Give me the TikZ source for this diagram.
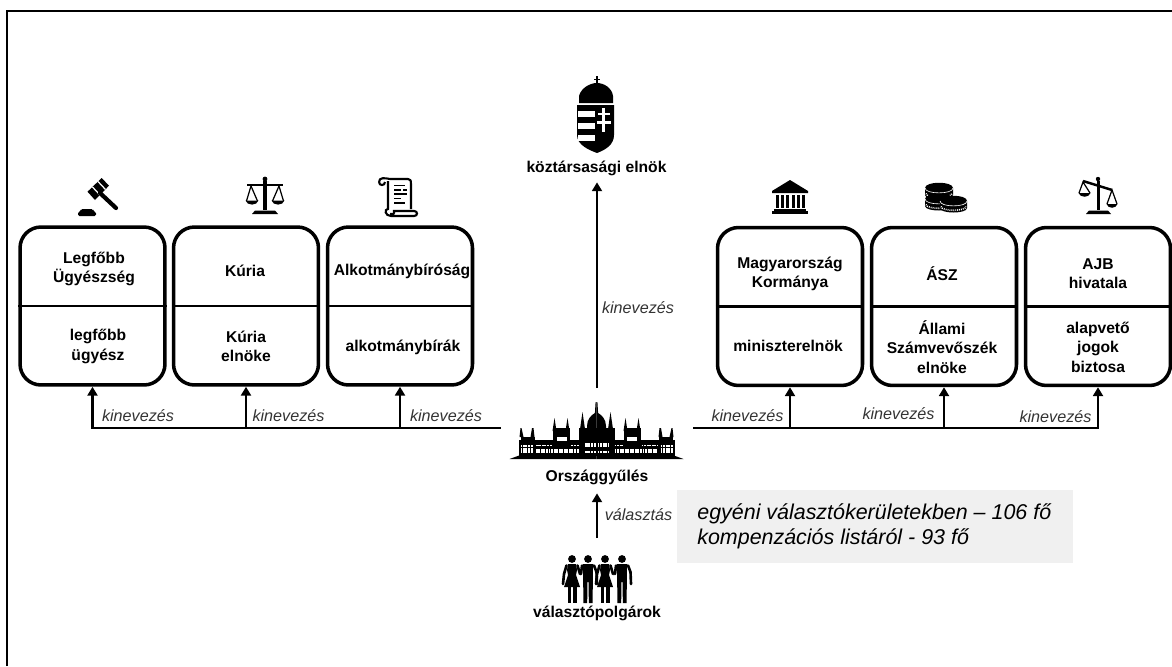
\documentclass[tikz,border=0pt]{standalone}
\usepackage{fontspec}
\setmainfont{Liberation Sans}
\usetikzlibrary{arrows.meta}
\definecolor{grayfill}{HTML}{F0F0F0}
\definecolor{italgray}{HTML}{333333}
\tikzset{
  orgbox/.style={draw=black,line width=2pt,rounded corners=0.42cm,minimum width=2.9cm,minimum height=3.16cm,inner sep=0pt},
  orgtext/.style={font=\fontsize{8.9}{11.1}\selectfont\bfseries,align=center,inner sep=0pt,text=black,yshift=-0.02cm},
  rel/.style={font=\fontsize{9.2}{11}\selectfont\itshape,inner sep=0pt,text=italgray},
  conn/.style={line width=1.6pt,draw=black},
  arr/.style={conn,-{Triangle[length=5pt,width=5.6pt]}},
  divider/.style={line width=1.7pt,draw=black},
  spot/.style={inner sep=0pt,outer sep=0pt},
  win/.style={draw=white,dash pattern=on 1.1pt off .35pt},
}
\newcommand\coinico[3]{%
  \fill[black] (#1-#3,#2) -- (#1-#3,#2+7) .. controls (#1-#3,#2+13) and (#1+#3,#2+13) .. (#1+#3,#2+7) -- (#1+#3,#2) .. controls (#1+#3,#2-7) and (#1-#3,#2-7) .. cycle;
  \draw[white,line width=.35pt] (#1-#3,#2) .. controls (#1-#3,#2+6.5) and (#1+#3,#2+6.5) .. (#1+#3,#2);
  \draw[white,line width=.9pt,dash pattern=on .5pt off .6pt] (#1-#3+1,#2+5.5) .. controls (#1-#3+1,#2+10.5) and (#1+#3-1,#2+10.5) .. (#1+#3-1,#2+5.5);
}
\newcommand\womanico[1]{\begin{scope}[shift={(#1,0)}]
  \fill (0,559) circle (3.9);
  \fill (-4,564) -- (4,564) -- (5,570) -- (4,575) -- (8,587) -- (-8,587) -- (-4,575) -- (-5,570) -- cycle;
  \draw[line width=1.5pt,line cap=round] (-5.5,565.5) -- (-8,574) -- (-9,584);
  \draw[line width=1.5pt,line cap=round] (5.5,565.5) -- (8,574);
  \fill (-4.5,587) rectangle (-1,603);
  \fill (1,587) rectangle (4.5,603);
\end{scope}}
\newcommand\manico[1]{\begin{scope}[shift={(#1,0)}]
  \fill (0,559) circle (3.9);
  \fill (-5,564) -- (5,564) -- (4.6,603) -- (.8,603) -- (.6,582) -- (-.6,582) -- (-.8,603) -- (-4.6,603) -- cycle;
  \draw[line width=1.5pt,line cap=round] (-6,565.5) -- (-7,574);
  \draw[line width=1.5pt,line cap=round] (6,565.5) -- (8.5,572) -- (9,584);
\end{scope}}
\newcommand\parlhalf{%
  \fill (0,459) -- (87,459) -- (76,455) -- (0,455) -- cycle;
  \fill (0,440) rectangle (78,456);
  \fill (62,437) rectangle (76,456);
  \fill (62,437) -- (63,428) -- (64.5,428) -- (66,437) -- cycle;
  \fill (73,437) -- (75,428) -- (76,428) -- (77,437) -- cycle;
  \fill (27,428) rectangle (44,456);
  \fill (27,431) -- (29,418) -- (31,431) -- cycle;
  \fill (40,431) -- (42,418) -- (44,431) -- cycle;
  \fill (0,428) rectangle (18,456);
  \fill (0,440) -- (9.5,440) -- (9.5,426) .. controls (9.5,419) and (5,415) .. (1.6,413) -- (0.9,402) -- (0,402) -- cycle;
  \fill (10.5,436) -- (14,412) -- (17.5,436) -- cycle;
  \fill[white] (35,420.5) circle (.9);
  \fill[white] (30,437) rectangle (40,441);
  \draw[win,line width=2.4pt] (1,445) -- (12,445);
  \draw[win,line width=1pt] (1,452) -- (12,452);
  \draw[win,line width=2.8pt] (18,451) -- (61,451);
  \draw[win,line width=.9pt] (18,445.5) -- (26,445.5);
  \draw[win,line width=.9pt] (45,445.5) -- (61,445.5);
  \draw[win,line width=2.4pt] (64,450.5) -- (76,450.5);
  \draw[win,line width=1.2pt] (64,446) -- (76,446);
}
\begin{document}
\begin{tikzpicture}[x=0.02cm,y=-0.02cm]
\useasboundingbox (0,0) rectangle (1172,666);
% frame
\draw[line width=1.2pt,black] (7,666) -- (7,11) -- (1172,11);
% grey note
\fill[grayfill] (677,490) rectangle (1073,563);
\node[anchor=west,align=left,inner sep=0pt,font=\fontsize{12.2}{14.2}\selectfont\itshape,text=black] (note) at (697,526.5) {egyéni választókerületekben – 106 fő\\kompenzációs listáról - 93 fő};
% boxes
\node[orgbox] (a) at (92.5,306) {};
\node[orgbox] (b) at (246,306) {};
\node[orgbox] (c) at (400,306) {};
\node[orgbox] (d) at (790,306.5) {};
\node[orgbox] (e) at (944,306.5) {};
\node[orgbox] (f) at (1098,306.5) {};
\foreach \n in {a,b,c,d,e,f}{\draw[divider] (\n.west) -- (\n.east);}
% box texts
\node[orgtext] (a1) at (94,268) {Legfőbb\\Ügyészség};
\node[orgtext] (a2) at (98,345.5) {legfőbb\\ügyész};
\node[orgtext] (b1) at (245,270) {Kúria};
\node[orgtext] (b2) at (246,345.5) {Kúria\\elnöke};
\node[orgtext] (c1) at (402,270) {Alkotmánybíróság};
\node[orgtext] (c2) at (403,346) {alkotmánybírák};
\node[orgtext] (d1) at (790,273) {Magyarország\\Kormánya};
\node[orgtext] (d2) at (788,345) {miniszterelnök};
\node[orgtext] (e1) at (942,273) {ÁSZ};
\node[orgtext] (e2) at (942,346) {Állami\\Számvevőszék\\elnöke};
\node[orgtext] (f1) at (1098,272.5) {AJB\\hivatala};
\node[orgtext] (f2) at (1098,346) {alapvető\\jogok\\biztosa};
% centre anchors
\node[spot,minimum width=3.86cm,minimum height=1.6cm] (parl) at (597,428) {};
\node[orgtext,minimum height=0.64cm] (orsz) at (597,476) {Országgyűlés};
\node[orgtext,minimum height=0.56cm] (pres) at (596.5,167) {köztársasági elnök};
\node[spot,minimum width=1.4cm,minimum height=1.32cm] (people) at (597,571) {};
\node[orgtext] (voters) at (597,612) {választópolgárok};
% connectors
\draw[arr] (parl.west) -| (a.south);
\draw[arr] (parl.west -| b.south) -- (b.south);
\draw[arr] (parl.west -| c.south) -- (c.south);
\draw[arr] (parl.east) -| (f.south);
\draw[arr] (parl.east -| d.south) -- (d.south);
\draw[arr] (parl.east -| e.south) -- (e.south);
\draw[arr] (parl.north) -- (pres.south -| parl.north);
\draw[arr] (people.north) -- (orsz.south);
% relation labels
\node[rel] (r1) at (138,416) {kinevezés};
\node[rel] (r2) at (288.5,416) {kinevezés};
\node[rel] (r3) at (446,416) {kinevezés};
\node[rel] (r4) at (747.5,416) {kinevezés};
\node[rel] (r5) at (898.5,414) {kinevezés};
\node[rel] (r6) at (1055.5,417) {kinevezés};
\node[rel] (r7) at (638,308) {kinevezés};
\node[rel] (r8) at (638.5,515) {választás};
% gavel
\fill (101.7,178) -- (109,185.7) -- (95,200) -- (87.5,191.7) -- cycle;
\draw[white,line width=.7pt] (92.5,187) -- (100,195);
\draw[white,line width=.7pt] (98,181.5) -- (105.5,189.5);
\draw[line width=2.4pt,line cap=round] (100,193) -- (116,208);
\fill[rounded corners=.8pt] (78,212) -- (81,211) -- (81,209) -- (93,209) -- (93,211) -- (96,212) -- (96,216) -- (78,216) -- cycle;
% balance
\draw[line width=1.4pt] (247,185) -- (283,185);
\fill (263.3,181) rectangle (266.7,210);
\fill (265,179) circle (2.4);
\fill (252,214) -- (255,210.5) -- (275,210.5) -- (278,214) -- cycle;
\draw[line width=.7pt] (246.5,201) -- (251,186) -- (257.5,201);
\draw[line width=.7pt] (272.5,201) -- (279,186) -- (283.5,201);
\fill (245.5,200.5) -- (258.5,200.5) .. controls (257,206) and (247,206) .. (245.5,200.5) -- cycle;
\fill (271.5,200.5) -- (284.5,200.5) .. controls (283,206) and (273,206) .. (271.5,200.5) -- cycle;
% scroll
\draw[line width=1.2pt,line join=round] (379,182) .. controls (379,177) and (385,178) .. (390,179) -- (408,179) .. controls (411,179) and (411,181) .. (411,184) -- (411,209);
\draw[line width=1.2pt] (379,182) .. controls (379,186) and (385,186) .. (385,182);
\draw[line width=1.2pt] (388,181) -- (388,209) .. controls (384,209) and (385,216) .. (391,216) -- (414,216) .. controls (418,216) and (418,211) .. (414,211) -- (394,211) .. controls (395,214) and (392,215) .. (390,214);
\draw[line width=1pt] (394,185.5) -- (405,185.5) (394,190) -- (401,190) (403,190) -- (407,190) (394,194) -- (407,194) (394,198.5) -- (401,198.5) (394,203) -- (405,203);
% bank
\fill (790,180) -- (808,191) -- (808,193) -- (772,193) -- (772,191) -- cycle;
\foreach \cx in {776,781.2,786.4,791.6,796.8,802}{\fill (\cx,195) rectangle (\cx+3,208);}
\fill (774,208.5) rectangle (806,210.5);
\fill (772,211) rectangle (808,214);
% coins
\coinico{939}{188}{14}
\coinico{939}{199}{14}
\coinico{953.5}{201}{13.5}
% tilted balance
\draw[line width=1.4pt] (1083,181) -- (1112,190);
\fill (1096.5,181) rectangle (1099.7,210);
\fill (1098,179) circle (2.2);
\fill (1086,214) -- (1089,210.5) -- (1108,210.5) -- (1111,214) -- cycle;
\draw[line width=.7pt] (1079,193) -- (1083,182) -- (1090,193);
\draw[line width=.7pt] (1107,204) -- (1112,190) -- (1117,204);
\fill (1078.5,193) -- (1090.5,193) .. controls (1089,198) and (1080,198) .. (1078.5,193) -- cycle;
\fill (1106.5,204) -- (1117.5,204) .. controls (1116,209) and (1108,209) .. (1106.5,204) -- cycle;
% coat of arms
\fill (596,76) rectangle (598,84);
\fill (594,78.5) rectangle (600,80.2);
\fill (579,103) -- (579,96) .. controls (581,88) and (590,83) .. (597,83) .. controls (604,83) and (612,88) .. (613,96) -- (613,103) -- cycle;
\fill (577,105) -- (614,105) -- (614,135) .. controls (614,145) and (605,150) .. (597,153) .. controls (589,150) and (577,145) .. (577,135) -- cycle;
\fill[white] (578,111) rectangle (595,116.5);
\fill[white] (578,123) rectangle (595,129);
\fill[white] (578,135) rectangle (595,141);
\fill[white] (601.8,107.5) rectangle (604.6,132);
\fill[white] (598,113) rectangle (610,115.4);
\fill[white] (597,121) rectangle (611,123.6);
% parliament
\begin{scope}[shift={(596.5,0)}]\parlhalf\end{scope}
\begin{scope}[shift={(596.5,0)},xscale=-1]\parlhalf\end{scope}
% voters
\womanico{572}
\manico{588}
\womanico{605}
\manico{622}
\end{tikzpicture}
\end{document}
